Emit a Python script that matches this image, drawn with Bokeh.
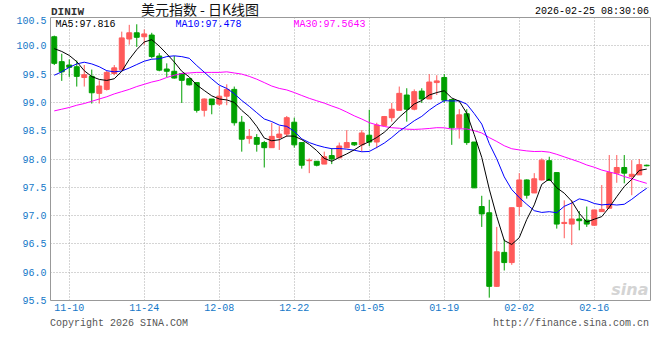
import numpy as np
import pandas as pd
from bokeh.plotting import figure
from bokeh.layouts import column
from bokeh.models import Range1d, FixedTicker, Label, ColumnDataSource, NumeralTickFormatter, Div
from bokeh.embed import file_html
from bokeh.resources import INLINE

# ---------------- data ----------------
opens = [100.16, 99.72, 99.66, 99.63, 99.44, 99.46, 99.16, 99.23, 99.51, 99.58,
         100.12, 100.23, 100.16, 100.19, 99.82, 99.59, 99.55, 99.51, 99.42, 99.35,
         98.86, 99.06, 98.97, 99.11, 99.23, 98.65, 98.36, 98.38, 98.29, 98.20,
         98.38, 98.44, 98.65, 98.29, 97.97, 97.96, 97.91, 98.06, 98.02, 98.20,
         98.29, 98.25, 98.42, 98.30, 98.59, 98.73, 98.86, 99.13, 98.88, 99.20,
         99.06, 99.35, 99.44, 99.05, 98.55, 98.80, 98.30, 97.16, 97.05, 95.75,
         96.35, 96.17, 97.16, 97.63, 97.40, 97.63, 97.97, 97.76, 96.86, 96.85,
         96.94, 96.92, 96.83, 97.07, 97.13, 97.75, 97.85, 97.69, 97.72, 97.89]
highs = [100.18, 99.86, 99.76, 99.74, 99.66, 99.58, 99.39, 99.56, 99.66, 100.25,
         100.37, 100.38, 100.29, 100.23, 99.87, 99.69, 99.82, 99.52, 99.43, 99.35,
         99.07, 99.06, 99.29, 99.32, 99.28, 98.76, 98.53, 98.44, 98.32, 98.64,
         98.58, 98.76, 98.73, 98.29, 98.01, 97.96, 98.13, 98.19, 98.29, 98.51,
         98.30, 98.51, 98.87, 98.64, 98.76, 98.99, 99.28, 99.25, 99.23, 99.25,
         99.50, 99.48, 99.50, 99.05, 98.88, 98.88, 98.30, 97.35, 97.28, 96.80,
         96.58, 97.14, 97.75, 97.64, 97.75, 98.01, 98.04, 97.76, 97.27, 97.27,
         97.08, 97.16, 97.10, 97.54, 98.07, 98.07, 98.07, 97.98, 98.00, 97.90]
lows = [99.66, 99.38, 99.45, 99.28, 99.28, 98.98, 98.98, 99.21, 99.48, 99.57,
        100.02, 99.98, 100.02, 99.78, 99.55, 99.45, 99.42, 98.99, 99.30, 98.82,
        98.75, 98.79, 98.94, 98.95, 98.59, 98.13, 98.27, 98.13, 97.85, 98.20,
        98.16, 98.39, 98.20, 97.83, 97.75, 97.87, 97.91, 97.91, 98.02, 98.20,
        98.23, 98.13, 98.23, 98.19, 98.59, 98.66, 98.86, 98.66, 98.86, 98.99,
        99.06, 99.13, 98.99, 98.25, 98.36, 98.25, 97.49, 96.80, 95.55, 95.74,
        96.03, 96.13, 97.00, 97.30, 97.40, 97.62, 97.62, 96.77, 96.60, 96.48,
        96.74, 96.80, 96.82, 97.07, 97.13, 97.58, 97.57, 97.36, 97.72, 97.87]
closes = [99.69, 99.54, 99.62, 99.46, 99.49, 99.17, 99.29, 99.53, 99.61, 100.14,
          100.23, 100.15, 100.21, 99.81, 99.57, 99.55, 99.43, 99.39, 99.31, 98.86,
          99.06, 98.96, 99.11, 99.23, 98.64, 98.35, 98.40, 98.26, 98.20, 98.40,
          98.44, 98.73, 98.25, 97.89, 97.98, 97.89, 98.04, 98.00, 98.23, 98.29,
          98.25, 98.46, 98.30, 98.60, 98.75, 98.88, 99.16, 98.88, 99.19, 99.06,
          99.36, 99.38, 99.04, 98.55, 98.78, 98.29, 97.49, 97.03, 95.75, 96.36,
          96.17, 97.14, 97.63, 97.36, 97.65, 97.98, 97.62, 96.85, 96.88, 96.94,
          96.91, 96.85, 97.10, 97.11, 97.76, 97.85, 97.75, 97.73, 97.90, 97.88]

# moving-average values at the start of the chart (window reaches before the first candle)
ma5_head = [99.95, 99.90, 99.83, 99.72]
ma10_head = [99.48, 99.54, 99.62, 99.68, 99.71, 99.68, 99.63, 99.56, 99.54]
ma30_head = [98.85, 98.88, 98.91, 98.95, 98.98, 99.02, 99.06, 99.10, 99.15, 99.19,
             99.23, 99.28, 99.32, 99.36, 99.39, 99.44, 99.48, 99.51, 99.52, 99.53,
             99.53, 99.53, 99.53, 99.54, 99.52, 99.50, 99.46, 99.41, 99.35]

tick_dates = ["11-10", "11-24", "12-08", "12-22", "01-05", "01-19", "02-02", "02-16"]
y_ticks = [95.5, 96.0, 96.5, 97.0, 97.5, 98.0, 98.5, 99.0, 99.5, 100.0, 100.5]
ma_legend = [("MA5:97.816", "#000000"), ("MA10:97.478", "#0000ff"), ("MA30:97.5643", "#ff00ff")]
title_code = "DINIW"
title_text = "美元指数 - 日K线图"
stamp_text = "2026-02-25 08:30:06"
copyright_text = "Copyright 2026 SINA.COM"
url_text = "http://finance.sina.com.cn"

# ---------------- derived ----------------
dates = pd.bdate_range("2025-11-06", "2026-02-25").strftime("%m-%d").tolist()
n = len(closes)
xs = list(range(n))

c = pd.Series(closes)
ma5 = c.rolling(5).mean().to_numpy()
ma5[:len(ma5_head)] = ma5_head
ma10 = c.rolling(10).mean().to_numpy()
ma10[:len(ma10_head)] = ma10_head
ma30 = c.rolling(30).mean().to_numpy()
ma30[:len(ma30_head)] = ma30_head

RED = "#ff5a5a"
GREEN = "#00a000"
colors = [RED if cl >= op else GREEN for op, cl in zip(opens, closes)]
src = ColumnDataSource(dict(
    x=xs, o=opens, h=highs, l=lows, c=closes,
    top=[max(a, b) for a, b in zip(opens, closes)],
    bot=[min(a, b) for a, b in zip(opens, closes)],
    color=colors))

W = 660
HEADER_H = 16
MONO = "Liberation Mono"
AXIS_BLUE = "#1478c8"

# ---------------- figure ----------------
p = figure(width=W, height=1 + 283 + 16, output_backend="svg", toolbar_location=None,
           x_range=Range1d(-0.5, n - 0.5), y_range=Range1d(95.5, 100.5),
           min_border_left=50, min_border_right=10, min_border_top=1, min_border_bottom=16)
p.background_fill_color = "white"
p.border_fill_color = "white"
p.outline_line_color = "#999999"
p.outline_line_width = 1

p.xaxis.ticker = FixedTicker(ticks=[dates.index(d) for d in tick_dates])
p.xaxis.major_label_overrides = {dates.index(d): d for d in tick_dates}
p.yaxis.ticker = FixedTicker(ticks=y_ticks)
p.yaxis.formatter = NumeralTickFormatter(format="0.0")
for ax in (p.xaxis[0], p.yaxis[0]):
    ax.axis_line_color = None
    ax.major_tick_line_color = None
    ax.minor_tick_line_color = None
    ax.major_tick_out = 0
    ax.major_tick_in = 0
    ax.major_label_text_font = MONO
    ax.major_label_text_font_size = "10px"
    ax.major_label_text_color = AXIS_BLUE
p.xaxis.major_label_standoff = 3
p.yaxis.major_label_standoff = 4
p.yaxis.major_label_text_baseline = "alphabetic"

for g in (p.xgrid[0], p.ygrid[0]):
    g.grid_line_color = "#aaaaaa"
    g.grid_line_dash = "1 2"
    g.grid_line_width = 1

# candles
p.segment(x0="x", y0="l", x1="x", y1="h", color="color", line_width=1, source=src)
p.vbar(x="x", width=0.66, top="top", bottom="bot", fill_color="color",
       line_color="color", line_width=1, source=src)

# moving averages
p.line(xs, ma30, line_color="#ff00ff", line_width=1)
p.line(xs, ma10, line_color="#0000ff", line_width=1)
p.line(xs, ma5, line_color="#000000", line_width=1)

# texts inside the plot frame (screen units relative to frame; page px converted)
FL, FB = 50, 300


def lab(px, py, text, **kw):
    opts = dict(text_font=MONO, text_font_size="10px", text_color="#000000",
                text_align="left", text_baseline="middle")
    opts.update(kw)
    p.add_layout(Label(x=px - FL, y=FB - py, x_units="screen", y_units="screen",
                       text=text, **opts))


for (t, col), mx in zip(ma_legend, [55, 175, 293]):
    lab(mx, 24, t, text_color=col)
lab(648, 289, "sina", text_align="right", text_font="DejaVu Sans", text_font_size="16px",
    text_font_style="bold italic", text_color="#d4d4d4")


# ---------------- header / footer texts ----------------
def span(x, yc, text, align="left", font=MONO, size=10, color="#000000", weight="normal", h=12):
    shift = {"left": "0", "center": "-50%", "right": "-100%"}[align]
    return (f'<span style="position:absolute;left:{x}px;transform:translateX({shift});'
            f'top:{yc - h / 2}px;height:{h}px;'
            f'line-height:{h}px;white-space:pre;font-family:\'{font}\';font-size:{size}px;'
            f'color:{color};font-weight:{weight};">{text}</span>')


header_html = ('<div style="position:relative;width:%dpx;height:%dpx;">' % (W, HEADER_H)
               + span(51, 12, title_code, size=11, color="#333333", weight="bold")
               + span(200, 9, title_text, align="center", font="Noto Sans CJK SC", size=14,
                      color="#111111", h=16)
               + span(649, 12, stamp_text, align="right")
               + '</div>')
FOOT_TOP = HEADER_H + 1 + 283 + 16
footer_html = ('<div style="position:relative;width:%dpx;height:24px;">' % W
               + span(50, 323.5 - FOOT_TOP, copyright_text, color="#555555")
               + span(649, 323.5 - FOOT_TOP, url_text, align="right", color="#555555")
               + '</div>')

header = Div(text=header_html, width=W, height=HEADER_H, margin=0)
footer = Div(text=footer_html, width=W, height=24, margin=0)

layout = column(header, p, footer, spacing=0)
open("out.html", "w").write(file_html(layout, INLINE))
